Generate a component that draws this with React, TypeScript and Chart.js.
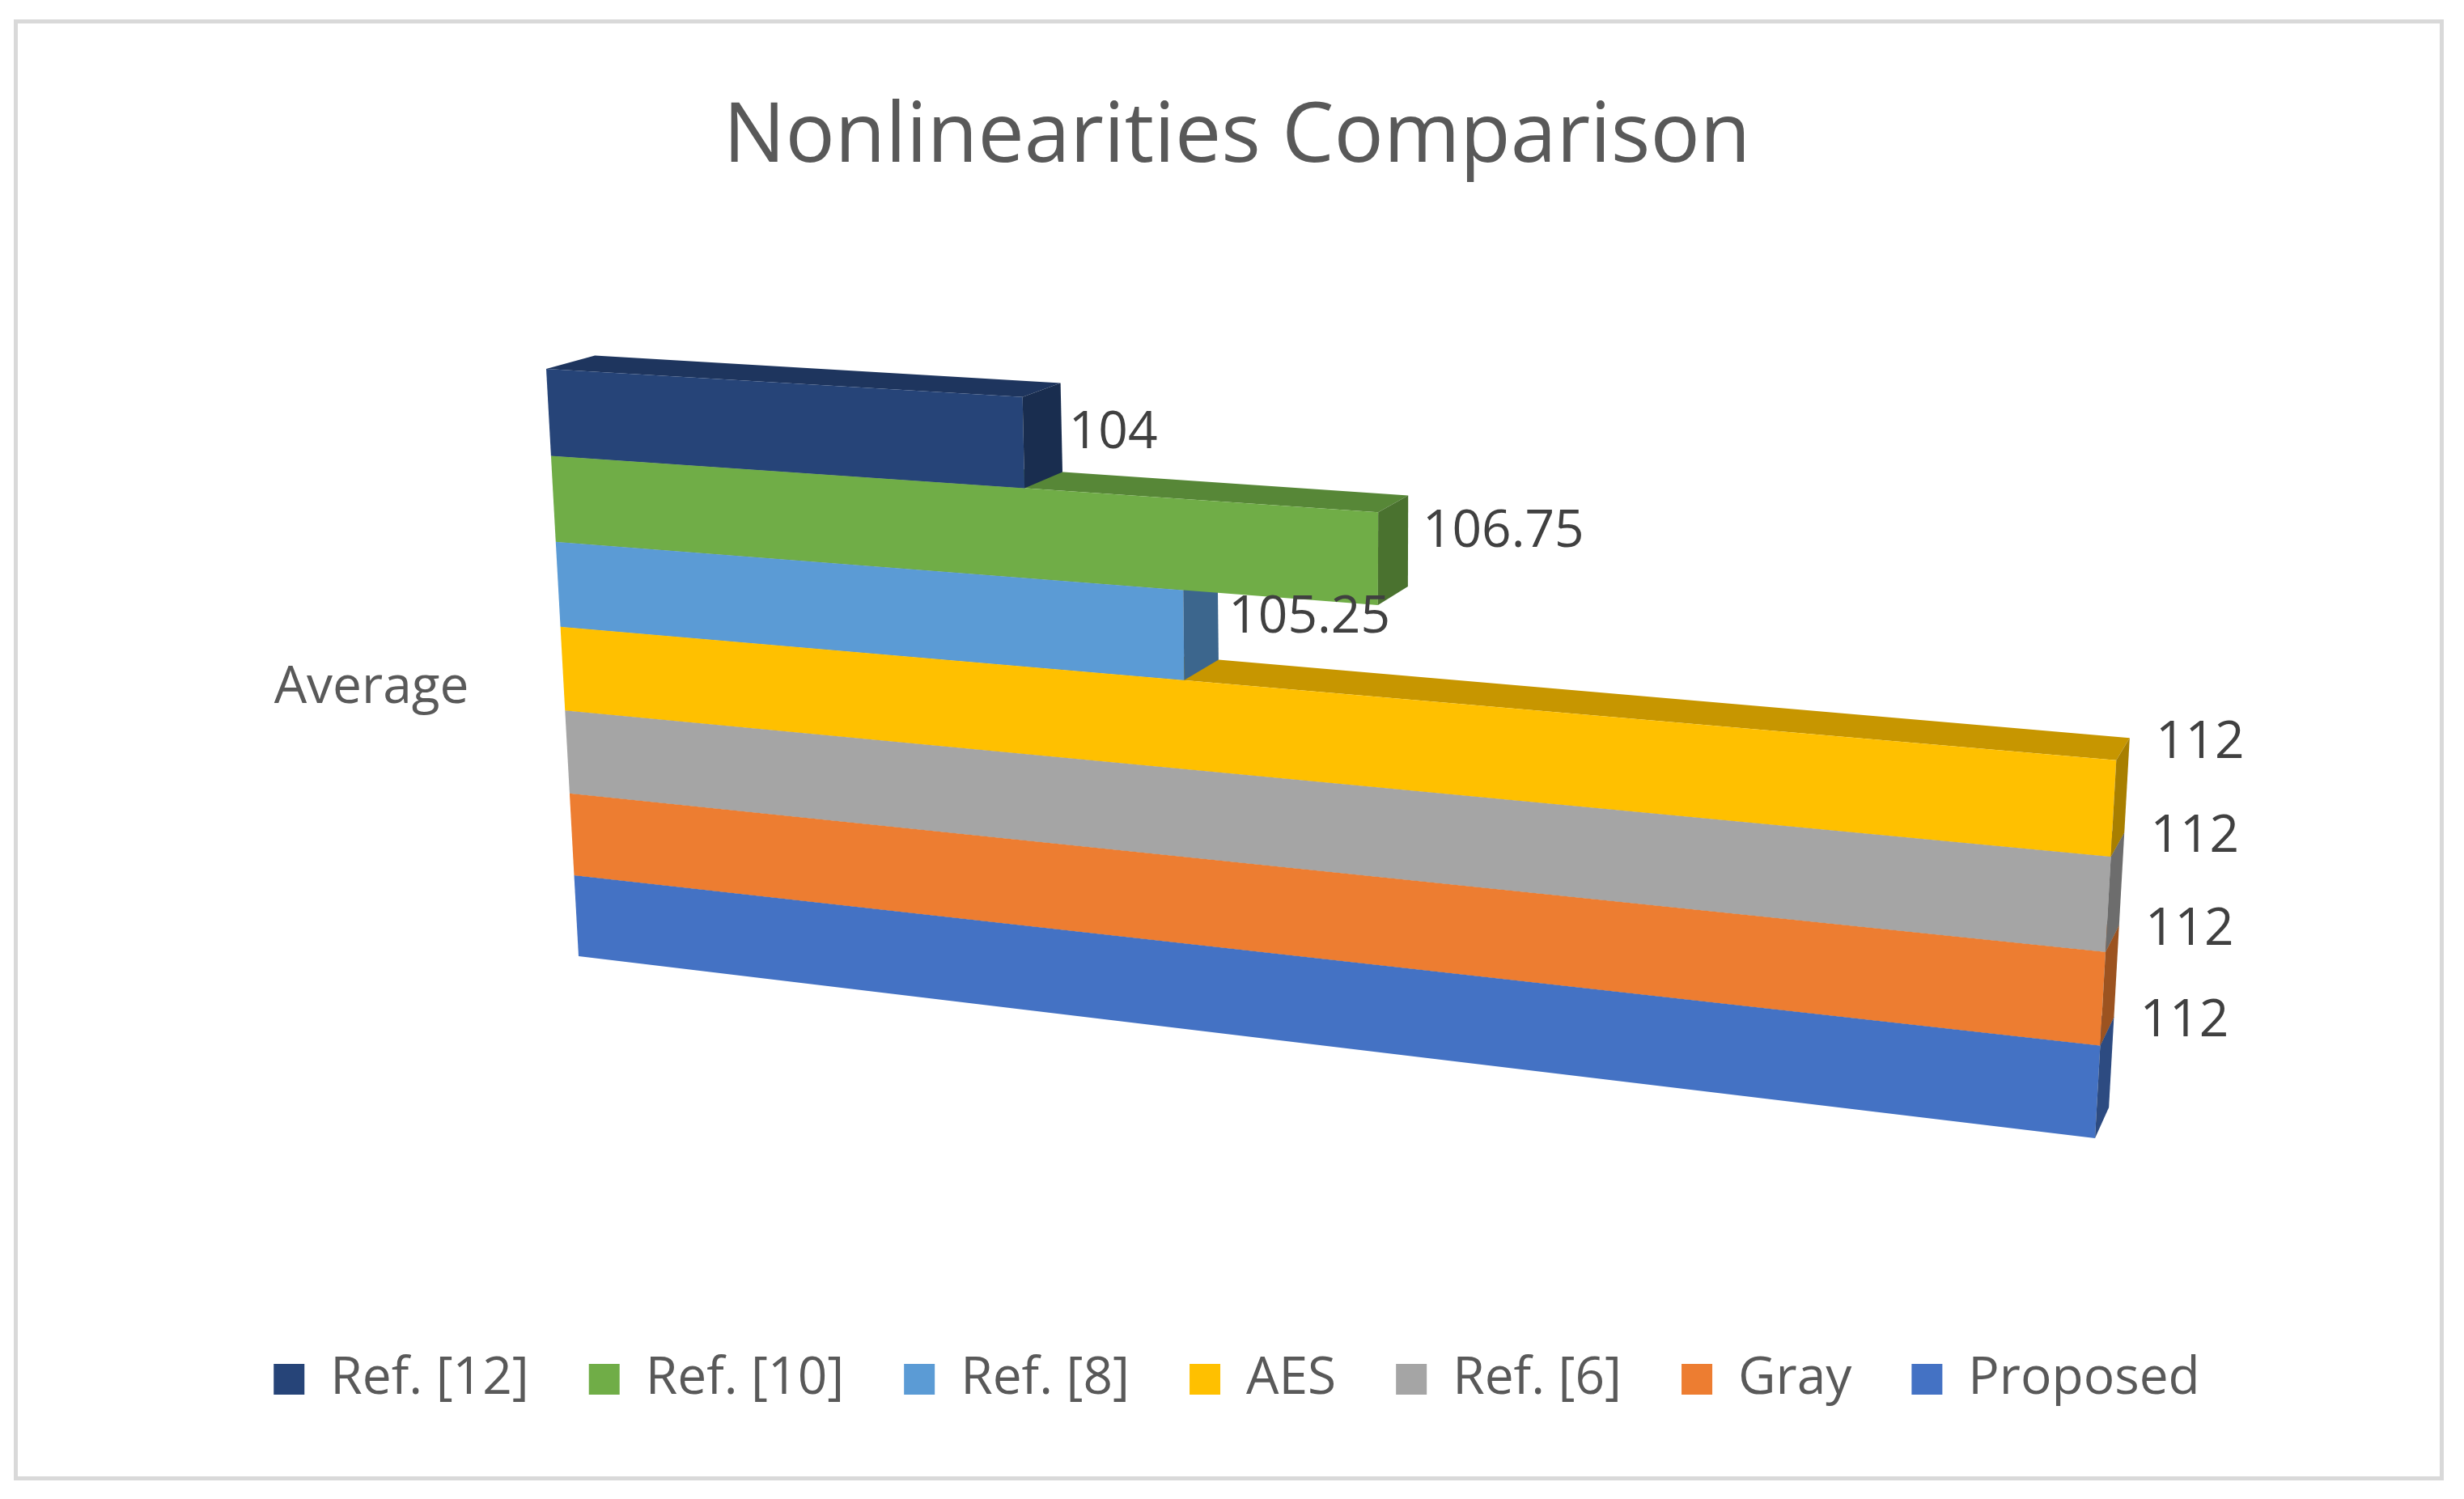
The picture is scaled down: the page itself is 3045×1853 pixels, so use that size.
import { useEffect, useRef } from 'react';
import { Chart, registerables } from 'chart.js';

Chart.register(...registerables);

const TITLE = 'Nonlinearities Comparison';
const CATEGORIES = ['Average'];
const SERIES = ['Ref. [12]', 'Ref. [10]', 'Ref. [8]', 'AES', 'Ref. [6]', 'Gray', 'Proposed'];
const VALUES = [104, 106.75, 105.25, 112, 112, 112, 112];
const COLORS = ['#264478', '#70ad47', '#5b9bd5', '#ffc000', '#a5a5a5', '#ed7d31', '#4472c4'];
const AXIS_MIN = 100;
const AXIS_MAX = 112;

const FONT = "'Open Sans', sans-serif";

// view of the 3D plot, in canvas px for a 3045x1853 canvas:
// front plane corners (u,v) = (0,0) (1,0) (1,1) (0,1), depth vanishing point
const P00: [number, number] = [675, 456];
const P10: [number, number] = [2636, 572];
const P11: [number, number] = [2589, 1407];
const P01: [number, number] = [715, 1182];
const VANISH: [number, number] = [3350, -282];
const DEPTH = 0.0225;

type Pt = [number, number];

function makeHomography(p0: Pt, p1: Pt, p2: Pt, p3: Pt) {
  const [x0, y0] = p0, [x1, y1] = p1, [x2, y2] = p2, [x3, y3] = p3;
  const dx1 = x1 - x2, dx2 = x3 - x2, dx3 = x0 - x1 + x2 - x3;
  const dy1 = y1 - y2, dy2 = y3 - y2, dy3 = y0 - y1 + y2 - y3;
  const det = dx1 * dy2 - dx2 * dy1;
  const g = (dx3 * dy2 - dx2 * dy3) / det;
  const h = (dx1 * dy3 - dx3 * dy1) / det;
  const a = x1 - x0 + g * x1, b = x3 - x0 + h * x3, c = x0;
  const d = y1 - y0 + g * y1, e = y3 - y0 + h * y3, f = y0;
  return (u: number, v: number): Pt => {
    const w = g * u + h * v + 1;
    return [(a * u + b * v + c) / w, (d * u + e * v + f) / w];
  };
}

function shade(hex: string, k: number) {
  const n = parseInt(hex.slice(1), 16);
  const r = Math.round(((n >> 16) & 255) * k);
  const g = Math.round(((n >> 8) & 255) * k);
  const b = Math.round((n & 255) * k);
  return `rgb(${r}, ${g}, ${b})`;
}

function poly(ctx: CanvasRenderingContext2D, pts: Pt[], color: string) {
  ctx.beginPath();
  ctx.moveTo(pts[0][0], pts[0][1]);
  for (let i = 1; i < pts.length; i++) ctx.lineTo(pts[i][0], pts[i][1]);
  ctx.closePath();
  ctx.fillStyle = color;
  ctx.fill();
}

// draws the bars as 3D boxes in perspective, from the bar elements Chart.js laid out
const bars3d = {
  id: 'bars3d',
  beforeDatasetsDraw(chart: any) {
    const { ctx, width, height } = chart;
    const sx = width / 3045;
    const sy = height / 1853;
    const pt = (p: Pt): Pt => [p[0] * sx, p[1] * sy];
    const H = makeHomography(pt(P00), pt(P10), pt(P11), pt(P01));
    const vp = pt(VANISH);
    const back = ([x, y]: Pt): Pt => [x + DEPTH * (vp[0] - x), y + DEPTH * (vp[1] - y)];

    const xs = chart.scales.x;
    const xa = xs.getPixelForValue(xs.min);
    const xb = xs.getPixelForValue(xs.max);
    const bars = chart.getSortedVisibleDatasetMetas().map((m: any) => ({
      ds: chart.data.datasets[m.index],
      el: m.data[0].getProps(['x', 'y', 'base', 'height'], true),
    }));
    const top = Math.min(...bars.map((b: any) => b.el.y - b.el.height / 2));
    const bottom = Math.max(...bars.map((b: any) => b.el.y + b.el.height / 2));
    const U = (px: number) => Math.max(0, (px - xa) / (xb - xa));
    const V = (py: number) => (py - top) / (bottom - top);

    // paint from the lowest bar up, so upper bars cover the faces behind them
    const order = [...bars].sort((a: any, b: any) => b.el.y - a.el.y);
    ctx.save();
    for (const { ds, el } of order) {
      const color = ds.backgroundColor as string;
      const u0 = U(el.base);
      const u1 = U(el.x);
      const v0 = V(el.y - el.height / 2);
      const v1 = V(el.y + el.height / 2);
      const tl = H(u0, v0), tr = H(u1, v0), br = H(u1, v1), bl = H(u0, v1);
      poly(ctx, [tl, tr, back(tr), back(tl)], shade(color, 0.78));
      poly(ctx, [tl, tr, br, bl], color);
      poly(ctx, [tr, back(tr), back(br), br], shade(color, 0.66));
    }

    // value labels
    ctx.font = `${Math.round(64 * sy)}px ${FONT}`;
    ctx.fillStyle = '#404040';
    ctx.textAlign = 'left';
    ctx.textBaseline = 'middle';
    for (const { ds, el } of bars) {
      const u1 = U(el.x);
      const v0 = V(el.y - el.height / 2);
      const v1 = V(el.y + el.height / 2);
      const btr = back(H(u1, v0));
      const mid = H(u1, (v0 + v1) / 2);
      const f = Math.min(1, Math.max(0, 1.15 * u1 - 0.15));
      const ly = mid[1] - f * (mid[1] - btr[1]) + 6 * sy;
      const lx = btr[0] + (10 + 33 * (u1 - 0.33)) * sx;
      ctx.fillText(String(ds.data[0]), lx, ly);
    }

    // category label
    const left = H(0, 0.5);
    ctx.fillStyle = '#595959';
    ctx.textAlign = 'right';
    ctx.fillText(chart.scales.y.getLabelForValue(0), left[0] - 116 * sx, left[1] + 24 * sy);
    ctx.restore();
    return false;
  },
};

export default function App() {
  const canvasRef = useRef<HTMLCanvasElement | null>(null);

  useEffect(() => {
    const canvas = canvasRef.current;
    if (!canvas) return;

    const chart = new Chart(canvas, {
      type: 'bar',
      data: {
        labels: CATEGORIES,
        datasets: SERIES.map((label, i) => ({
          label,
          data: [VALUES[i]],
          backgroundColor: COLORS[i],
          borderWidth: 0,
          barPercentage: 1,
          categoryPercentage: 1,
        })),
      },
      options: {
        animation: false,
        responsive: true,
        maintainAspectRatio: false,
        indexAxis: 'y',
        layout: { padding: { left: 12, right: 0, top: 0, bottom: 106 } },
        scales: {
          x: { display: false, min: AXIS_MIN, max: AXIS_MAX },
          y: { display: false },
        },
        plugins: {
          title: {
            display: true,
            text: TITLE,
            color: '#595959',
            font: { family: FONT, size: 102, weight: 'normal' },
            padding: { top: 110, bottom: 40 },
          },
          legend: {
            position: 'bottom',
            labels: {
              color: '#595959',
              font: { family: FONT, size: 64 },
              boxWidth: 38,
              boxHeight: 38,
              padding: 74,
            },
          },
          tooltip: { enabled: false },
        },
      },
      plugins: [bars3d],
    });

    return () => chart.destroy();
  }, []);

  return (
    <div style={{ position: 'fixed', inset: 0, background: '#ffffff' }}>
      <div
        style={{
          position: 'absolute',
          left: 17,
          top: 24,
          width: 3003,
          height: 1806,
          border: '5px solid #d9d9d9',
          boxSizing: 'border-box',
        }}
      />
      <div style={{ position: 'absolute', inset: 0 }}>
        <canvas ref={canvasRef} />
      </div>
    </div>
  );
}
